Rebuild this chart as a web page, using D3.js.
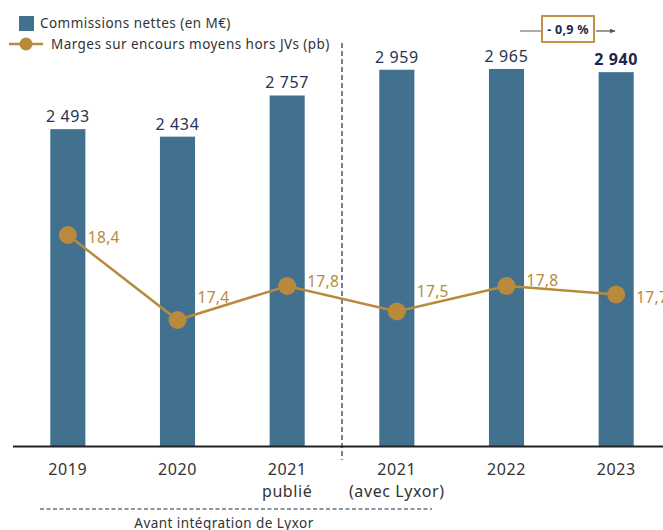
<!DOCTYPE html>
<html>
<head>
<meta charset="utf-8">
<script src="https://cdn.jsdelivr.net/npm/d3@7"></script>
<style>
  html, body { margin: 0; padding: 0; background: #fff; }
  svg { display: block; font-family: "Noto Sans", "Open Sans", sans-serif; }
</style>
</head>
<body>
<svg id="chart" width="663" height="530"></svg>
<script>
// Categories (two-line labels) and series
const categories = ["2019", "2020", "2021 publié", "2021 avec Lyxor", "2022", "2023"];
const categoryLines = [["2019"], ["2020"], ["2021", "publié"], ["2021", "(avec Lyxor)"], ["2022"], ["2023"]];
const commissions = [2493, 2434, 2757, 2959, 2965, 2940];
const commissionLabels = ["2 493", "2 434", "2 757", "2 959", "2 965", "2 940"];
const marges = [18.4, 17.4, 17.8, 17.5, 17.8, 17.7];
const margeLabels = ["18,4", "17,4", "17,8", "17,5", "17,8", "17,7"];
const evolutionLabel = "- 0,9 %";
const legendLabels = ["Commissions nettes (en M€)", "Marges sur encours moyens hors JVs (pb)"];
const noteLabel = "Avant intégration de Lyxor";

const barColor = "#41718f";
const gold = "#b98a3c";
const navy = "#2b3150";

const svg = d3.select("#chart");

const x = d3.scaleBand().domain(categories).range([13, 671]).paddingInner(0.68).paddingOuter(0.34);
const y = d3.scaleLinear().domain([0, 3000]).range([447, 64.5]);
const y2 = d3.scaleLinear().domain([17.4, 18.4]).range([320, 235]);
const cx = c => x(c) + x.bandwidth() / 2;

// Bars
svg.append("g").selectAll("rect").data(commissions).join("rect")
  .attr("x", (d, i) => x(categories[i]))
  .attr("y", d => y(d))
  .attr("width", x.bandwidth())
  .attr("height", d => y(0) - y(d))
  .attr("fill", barColor);

// Bar value labels
svg.append("g").selectAll("text").data(commissions).join("text")
  .attr("x", (d, i) => cx(categories[i]))
  .attr("y", d => y(d) - 7)
  .attr("text-anchor", "middle")
  .attr("font-size", 16)
  .attr("letter-spacing", 0.6)
  .attr("font-weight", (d, i) => i === commissions.length - 1 ? 700 : 400)
  .attr("fill", (d, i) => i === commissions.length - 1 ? "#1c2650" : navy)
  .text((d, i) => commissionLabels[i]);

// Separation between published 2021 and 2021 with Lyxor
const sepX = (x(categories[2]) + x.bandwidth() + x(categories[3])) / 2;
svg.append("line")
  .attr("x1", sepX).attr("x2", sepX).attr("y1", 43).attr("y2", 460)
  .attr("stroke", "#1f2a4a").attr("stroke-width", 1.2).attr("stroke-dasharray", "5,3");

// Baseline axis
svg.append("line")
  .attr("x1", 13).attr("x2", 663).attr("y1", y(0) - 0.5).attr("y2", y(0) - 0.5)
  .attr("stroke", "#222").attr("stroke-width", 2.2);

// Category labels
const xl = svg.append("g").selectAll("text").data(categoryLines).join("text")
  .attr("text-anchor", "middle")
  .attr("font-size", 16)
  .attr("letter-spacing", 0.6)
  .attr("fill", "#333");
xl.selectAll("tspan").data((d, i) => d.map(t => ({t, i}))).join("tspan")
  .attr("x", d => cx(categories[d.i]))
  .attr("y", (d, j) => 475 + j * 22)
  .text(d => d.t);

// Margin line
const line = d3.line().x((d, i) => cx(categories[i])).y(d => y2(d));
svg.append("path").datum(marges)
  .attr("d", line).attr("fill", "none")
  .attr("stroke", gold).attr("stroke-width", 2.5);
svg.append("g").selectAll("circle").data(marges).join("circle")
  .attr("cx", (d, i) => cx(categories[i]))
  .attr("cy", d => y2(d))
  .attr("r", 9)
  .attr("fill", gold);
const labelDy = [5, -20, -2, -18, -3, 5];
svg.append("g").selectAll("text").data(marges).join("text")
  .attr("x", (d, i) => cx(categories[i]) + 20)
  .attr("y", (d, i) => y2(d) + labelDy[i] + 3)
  .attr("font-size", 15.5)
  .attr("letter-spacing", 0.3)
  .attr("fill", gold)
  .text((d, i) => margeLabels[i]);

// Legend
const lg = svg.append("g").attr("letter-spacing", 0.45);
lg.append("rect").attr("x", 19).attr("y", 16).attr("width", 15).attr("height", 15).attr("fill", barColor);
lg.append("text").attr("x", 40).attr("y", 28).attr("font-size", 13.5).attr("fill", "#333").text(legendLabels[0]);
lg.append("line").attr("x1", 9).attr("x2", 43).attr("y1", 44).attr("y2", 44).attr("stroke", gold).attr("stroke-width", 2.5);
lg.append("circle").attr("cx", 26).attr("cy", 44).attr("r", 6.5).attr("fill", gold);
lg.append("text").attr("x", 51).attr("y", 48.5).attr("font-size", 13.5).attr("fill", "#333").text(legendLabels[1]);

// Evolution box 2022 -> 2023
svg.append("defs").append("marker")
  .attr("id", "arrow").attr("viewBox", "0 0 10 10").attr("refX", 9).attr("refY", 5)
  .attr("markerWidth", 5).attr("markerHeight", 5).attr("orient", "auto")
  .append("path").attr("d", "M0,1 L10,5 L0,9 Z").attr("fill", "#555");
svg.append("line").attr("x1", 520).attr("x2", 541).attr("y1", 31).attr("y2", 31)
  .attr("stroke", "#777").attr("stroke-width", 1.2);
svg.append("line").attr("x1", 596).attr("x2", 615).attr("y1", 31).attr("y2", 31)
  .attr("stroke", "#555").attr("stroke-width", 1.2).attr("marker-end", "url(#arrow)");
svg.append("rect").attr("x", 542).attr("y", 16).attr("width", 52).attr("height", 26)
  .attr("fill", "#fff").attr("stroke", "#c0954a").attr("stroke-width", 2);
svg.append("text").attr("x", 568).attr("y", 34).attr("text-anchor", "middle")
  .attr("font-size", 12.5).attr("font-weight", 700).attr("letter-spacing", 0.3)
  .attr("fill", "#1c2650").text(evolutionLabel);

// Bracket note under the pre-Lyxor years
svg.append("line").attr("x1", 40).attr("x2", 432).attr("y1", 509).attr("y2", 509)
  .attr("stroke", "#1f2a4a").attr("stroke-width", 1.2).attr("stroke-dasharray", "4,2.5");
svg.append("text").attr("x", 224).attr("y", 528).attr("text-anchor", "middle")
  .attr("font-size", 13.5).attr("letter-spacing", 0.45).attr("fill", "#333").text(noteLabel);
</script>
</body>
</html>
